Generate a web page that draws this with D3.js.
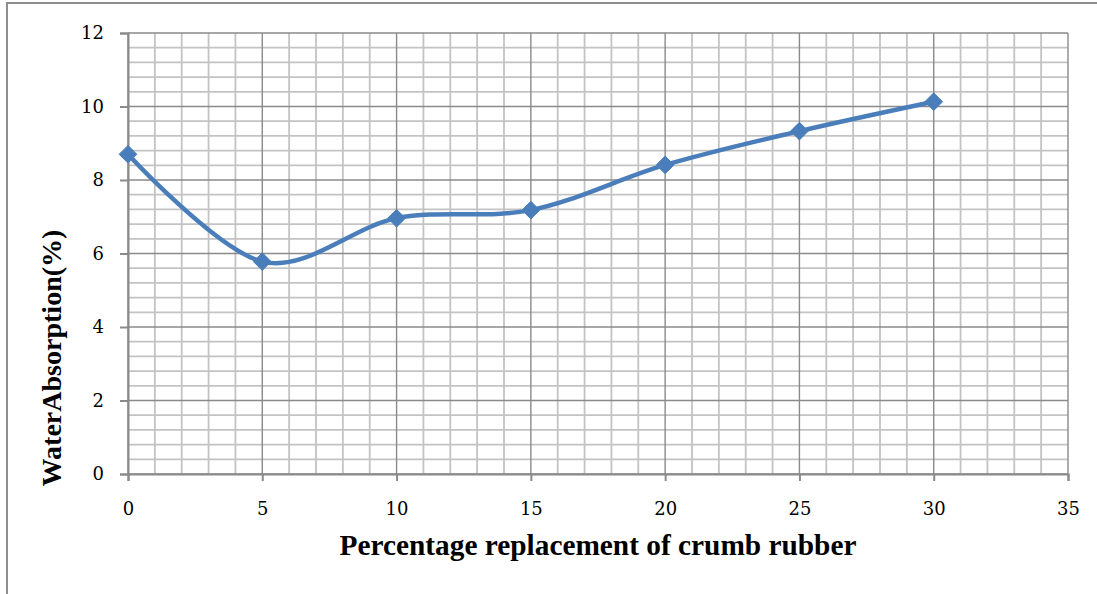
<!DOCTYPE html>
<html>
<head>
<meta charset="utf-8">
<script src="https://cdn.jsdelivr.net/npm/d3@7"></script>
<style>
  body { margin: 0; background: #fff; }
  svg { display: block; }
  .title { font-family: "Liberation Serif", serif; fill: #000; font-weight: bold; }
  .tick text { font-family: "DejaVu Serif", serif; font-size: 18px; fill: #000; }
</style>
</head>
<body>
<svg id="chart" width="1097" height="594"></svg>
<script>
// percentage of crumb rubber vs water absorption
var replacement = [0, 5, 10, 15, 20, 25, 30]
var absorption = [8.70, 5.78, 6.96, 7.18, 8.41, 9.33, 10.13]
var xTickVals = [0, 5, 10, 15, 20, 25, 30, 35]
var yTickVals = [0, 2, 4, 6, 8, 10, 12]
var xTitle = "Percentage replacement of crumb rubber"
var yTitle = "WaterAbsorption(%)"

var svg = d3.select("#chart")
var plotLeft = 128, plotRight = 1068, plotTop = 33, plotBottom = 474

var x = d3.scaleLinear().domain([0, 35]).range([plotLeft, plotRight])
var y = d3.scaleLinear().domain([0, 12]).range([plotBottom, plotTop])

// outer chart frame (runs off the right / bottom of the picture)
svg.append("rect")
  .attr("x", 7).attr("y", 3)
  .attr("width", 1200).attr("height", 700)
  .attr("fill", "none")
  .attr("stroke", "#8e8e8e")
  .attr("stroke-width", 2)

var grid = svg.append("g")

// minor grid
grid.selectAll(".vminor")
  .data(d3.range(0, 36, 1).filter(function(d){ return d % 5 != 0 }))
  .enter().append("line")
  .attr("x1", function(d){ return x(d) }).attr("x2", function(d){ return x(d) })
  .attr("y1", plotTop).attr("y2", plotBottom)
  .attr("stroke", "#c3c3c3").attr("stroke-width", 1.8)

grid.selectAll(".hminor")
  .data(d3.range(0, 30, 1).filter(function(d){ return d % 5 != 0 }).map(function(d){ return d * 0.4 }))
  .enter().append("line")
  .attr("x1", plotLeft).attr("x2", plotRight)
  .attr("y1", function(d){ return y(d) }).attr("y2", function(d){ return y(d) })
  .attr("stroke", "#c3c3c3").attr("stroke-width", 1.8)

// major grid
grid.selectAll(".vmajor")
  .data(xTickVals)
  .enter().append("line")
  .attr("x1", function(d){ return x(d) }).attr("x2", function(d){ return x(d) })
  .attr("y1", plotTop).attr("y2", plotBottom)
  .attr("stroke", "#8a8a8a").attr("stroke-width", 1.4)

grid.selectAll(".hmajor")
  .data(yTickVals)
  .enter().append("line")
  .attr("x1", plotLeft).attr("x2", plotRight)
  .attr("y1", function(d){ return y(d) }).attr("y2", function(d){ return y(d) })
  .attr("stroke", "#8a8a8a").attr("stroke-width", 1.4)

// axes
var xAxis = d3.axisBottom(x).tickValues(xTickVals).tickSize(7).tickPadding(21)
var yAxis = d3.axisLeft(y).tickValues(yTickVals).tickSize(8).tickPadding(16)

var gx = svg.append("g").attr("transform", "translate(0," + plotBottom + ")").call(xAxis)
var gy = svg.append("g").attr("transform", "translate(" + plotLeft + ",0)").call(yAxis)

;[gx, gy].forEach(function(g){
  g.select(".domain").attr("stroke", "#8a8a8a").attr("stroke-width", 2)
  g.selectAll(".tick line").attr("stroke", "#8a8a8a").attr("stroke-width", 2)
})

// smoothed series line
var line = d3.line()
  .x(function(d, i){ return x(replacement[i]) })
  .y(function(d){ return y(d) })
  .curve(d3.curveCatmullRom.alpha(0))

svg.append("path")
  .datum(absorption)
  .attr("d", line)
  .attr("fill", "none")
  .attr("stroke", "#4a7ebb")
  .attr("stroke-width", 4.5)

svg.selectAll(".marker")
  .data(absorption)
  .enter().append("path")
  .attr("d", d3.symbol().type(d3.symbolDiamond2).size(200))
  .attr("transform", function(d, i){ return "translate(" + x(replacement[i]) + "," + y(d) + ")" })
  .attr("fill", "#4a7ebb")
  .attr("stroke", "#4a7ebb")
  .attr("stroke-width", 1)

// axis titles, sized to the reference widths
var xt = svg.append("text")
  .attr("class", "title")
  .attr("x", 598).attr("y", 555)
  .attr("text-anchor", "middle")
  .style("font-size", "20px")
  .text(xTitle)
var w = xt.node().getComputedTextLength()
xt.style("font-size", (20 * 517 / w) + "px")

var yt = svg.append("text")
  .attr("class", "title")
  .attr("transform", "translate(61,358) rotate(-90)")
  .attr("text-anchor", "middle")
  .style("font-size", "20px")
  .text(yTitle)
var w2 = yt.node().getComputedTextLength()
yt.style("font-size", (20 * 257 / w2) + "px")
</script>
</body>
</html>
